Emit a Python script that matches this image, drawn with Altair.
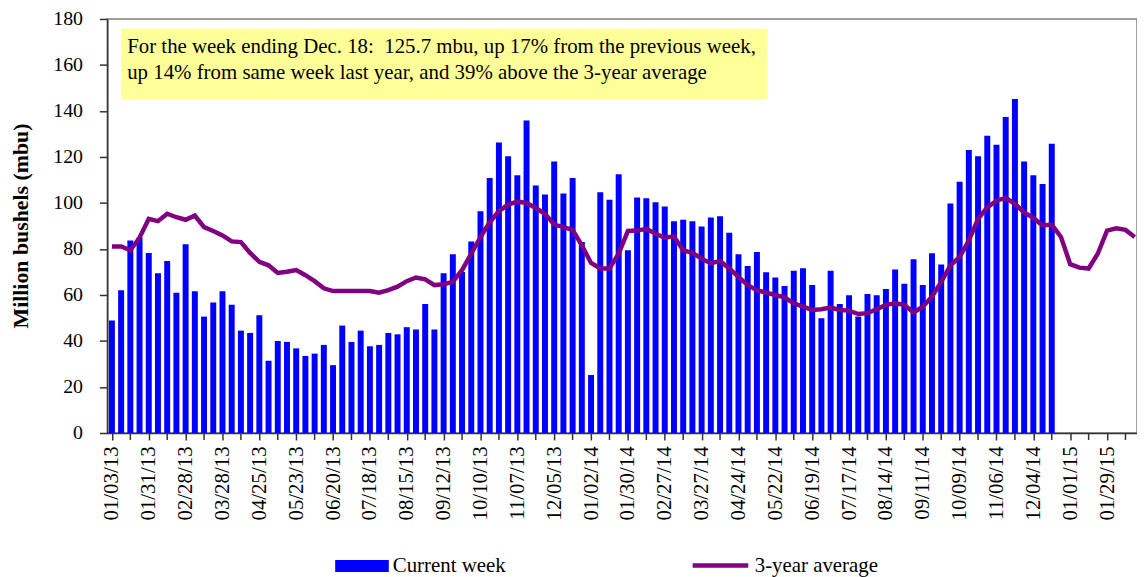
import altair as alt
import pandas as pd

# ---- data ----
tick_labels = ["01/03/13", "01/31/13", "02/28/13", "03/28/13", "04/25/13", "05/23/13",
               "06/20/13", "07/18/13", "08/15/13", "09/12/13", "10/10/13", "11/07/13",
               "12/05/13", "01/02/14", "01/30/14", "02/27/14", "03/27/14", "04/24/14",
               "05/22/14", "06/19/14", "07/17/14", "08/14/14", "09/11/14", "10/09/14",
               "11/06/14", "12/04/14", "01/01/15", "01/29/15"]

current_week = [48.9, 62.1, 83.7, 85.0, 78.3, 69.4, 74.8, 61.0, 82.0, 61.6,
                50.6, 56.7, 61.6, 55.7, 44.5, 43.5, 51.2, 31.4, 40.0, 39.6,
                36.8, 33.5, 34.5, 38.3, 29.5, 46.7, 39.6, 44.5, 37.7, 38.3,
                43.5, 42.9, 46.0, 45.0, 56.1, 45.0, 69.4, 77.7, 70.0, 83.2,
                96.4, 110.8, 126.3, 120.3, 112.1, 135.8, 107.6, 103.7, 118.0, 104.1,
                110.8, 83.0, 25.2, 104.7, 101.4, 112.5, 79.4, 102.4, 102.0, 100.3,
                98.5, 92.1, 92.7, 92.1, 89.8, 93.7, 94.2, 87.0, 77.7, 72.6,
                78.7, 69.9, 67.6, 63.9, 70.5, 71.6, 64.3, 49.9, 70.5, 56.1,
                59.9, 50.6, 60.4, 59.9, 62.6, 71.1, 64.9, 75.5, 64.3, 78.1,
                73.2, 99.8, 109.2, 123.0, 120.3, 129.2, 125.3, 137.4, 145.2, 118.0,
                112.1, 108.2, 125.7]

three_year_avg = [81.1, 81.1, 79.4, 84.9, 93.1, 92.1, 95.3, 93.8, 92.7, 94.5,
                  89.5, 87.8, 85.9, 83.3, 83.0, 78.3, 74.4, 72.9, 69.6, 70.1,
                  70.8, 68.6, 66.0, 62.9, 61.7, 61.7, 61.7, 61.7, 61.7, 61.0,
                  62.1, 63.6, 66.0, 67.6, 66.8, 64.3, 64.7, 65.7, 70.8, 78.0,
                  85.2, 91.6, 96.4, 99.3, 100.6, 100.0, 97.8, 95.3, 90.6, 89.5,
                  88.3, 81.6, 73.9, 71.5, 71.5, 78.0, 87.8, 88.0, 88.8, 86.6,
                  84.9, 85.5, 79.4, 78.3, 75.8, 73.7, 74.8, 71.5, 67.9, 64.3,
                  62.1, 61.0, 60.0, 59.0, 56.4, 54.9, 53.5, 53.8, 54.5, 53.5,
                  53.2, 51.7, 52.1, 53.8, 55.7, 56.4, 55.7, 52.4, 54.9, 59.3,
                  65.7, 72.9, 76.5, 83.7, 93.1, 98.1, 101.0, 102.2, 99.6, 95.9,
                  93.5, 90.2, 90.6, 85.2, 73.4, 71.9, 71.5, 78.0, 88.0, 89.0,
                  88.3, 85.2]

note_lines = ["For the week ending Dec. 18:\u00a0 125.7 mbu, up 17% from the previous week,",
              "up 14% from same week last year, and 39% above the 3-year average"]
note_y = [165.0, 153.9]
note_x = 1.66
note_box_x = [1.01, 71.16]
note_box_y = [145.0, 175.7]

label_weeks = list(range(0, 4 * len(tick_labels), 4))   # labelled ticks
minor_weeks = list(range(2, 112, 4))                     # unlabelled ticks between

FONT = "Liberation Serif"

bars_df = pd.DataFrame({"week": list(range(len(current_week))), "value": current_week,
                        "series": ["Current week"] * len(current_week)})
line_df = pd.DataFrame({"week": list(range(len(three_year_avg))), "value": three_year_avg,
                        "series": ["3-year average"] * len(three_year_avg)})
box_df = pd.DataFrame({"week": [note_box_x[0]], "x2": [note_box_x[1]],
                       "value": [note_box_y[0]], "y2": [note_box_y[1]]})
text_df = pd.DataFrame({"week": [note_x, note_x], "value": note_y, "t": note_lines})
minor_df = pd.DataFrame({"week": minor_weeks})

xscale = alt.Scale(domain=[-0.5, 111.25], nice=False, zero=False, padding=0)
yscale = alt.Scale(domain=[0, 180], nice=False, padding=0)

label_js = "[" + ",".join("'" + t + "'" for t in tick_labels) + "]"
xaxis = alt.Axis(values=label_weeks,
                 labelExpr=label_js + "[round(datum.value / 4)]",
                 labelAngle=270, labelAlign="right", labelBaseline="middle",
                 labelFont=FONT, labelFontSize=21, labelColor="#000000", labelPadding=6,
                 tickSize=7, tickColor="#333333", tickWidth=1.5,
                 domainColor="#333333", domainWidth=1.5,
                 labelOverlap=False, labelFlush=False, labelBound=False,
                 grid=False, title=None)
yaxis = alt.Axis(values=list(range(0, 181, 20)), labelFont=FONT, labelFontSize=20,
                 labelColor="#000000", labelPadding=17, tickSize=8, tickColor="#333333",
                 tickWidth=1.5, domainColor="#333333", domainWidth=1.5, grid=False,
                 title="Million bushels  (mbu)", titleFont=FONT, titleFontSize=22,
                 titleFontWeight="bold", titleColor="#000000", titleX=-87, titleY=208,
                 titleAngle=270, titleAlign="center", titleBaseline="middle")

X = alt.X("week:Q", scale=xscale, axis=xaxis)
Y = alt.Y("value:Q", scale=yscale, axis=yaxis)

box = alt.Chart(box_df).mark_rect(color="#FFFF99").encode(
    x=X, x2="x2:Q", y=Y, y2="y2:Q")

note = alt.Chart(text_df).mark_text(align="left", baseline="alphabetic", font=FONT,
                                    fontSize=21, color="#000000").encode(
    x=X, y=Y, text="t:N")

minor = alt.Chart(minor_df).mark_rule(color="#333333", strokeWidth=1.5, clip=False).encode(
    x=X, y=alt.value(417), y2=alt.value(424))

bars = alt.Chart(bars_df).mark_bar(size=6).encode(
    x=X, y=Y,
    fill=alt.Fill("series:N",
                  scale=alt.Scale(domain=["Current week"], range=["#0000FF"]),
                  legend=alt.Legend(orient="none", legendX=229.5, legendY=524, title=None,
                                    symbolType="M-1,-0.222H1V0.222H-1Z", symbolSize=2916,
                                    symbolStrokeWidth=0, labelFont=FONT, labelFontSize=21,
                                    labelColor="#000000", labelOffset=4, padding=0)))

line = alt.Chart(line_df).mark_line(strokeWidth=4.5, clip=True).encode(
    x=X, y=Y,
    stroke=alt.Stroke("series:N",
                      scale=alt.Scale(domain=["3-year average"], range=["#800080"]),
                      legend=alt.Legend(orient="none", legendX=587, legendY=520, title=None,
                                        symbolType="stroke", symbolSize=3136,
                                        symbolStrokeWidth=4.5, labelFont=FONT,
                                        labelFontSize=21, labelColor="#000000",
                                        labelOffset=4, padding=0)))

chart = alt.layer(box, note, minor, bars, line).properties(
    width=1037, height=417,
    padding={"left": 100, "top": 9, "right": 0, "bottom": 143},
    autosize=alt.AutoSizeParams(type="none"),
).configure_view(stroke="#808080", strokeWidth=1.5).configure_axisX(labelOverlap=False)

chart.save("out.html", embed_options={"renderer": "svg", "actions": False})
